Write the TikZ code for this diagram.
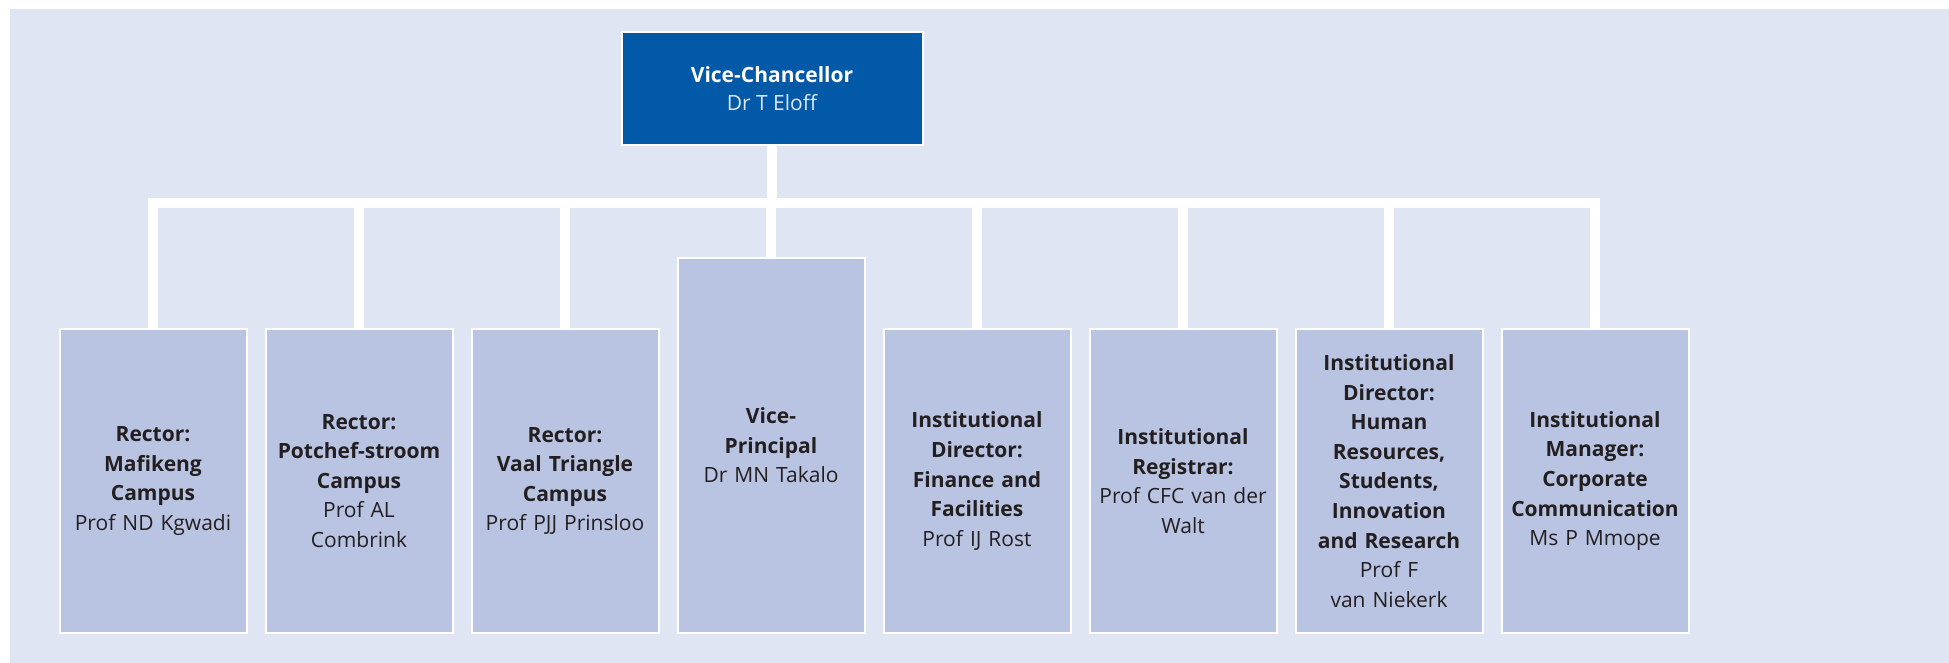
\documentclass[tikz,border=0pt]{standalone}
\usepackage{fontspec}
\setmainfont{Open Sans}
\usepackage{tikz}
\usetikzlibrary{positioning}
\definecolor{panel}{RGB}{223,229,242}
\definecolor{boxfill}{RGB}{185,195,226}
\definecolor{vcblue}{RGB}{1,89,168}
\definecolor{ink}{RGB}{35,31,32}
\definecolor{vcname}{RGB}{222,231,246}
\tikzset{%
  chief/.style = {rectangle,draw=white,line width=2pt,fill=vcblue,text=white,
        minimum width=301pt,minimum height=113pt,align=center,
        font=\fontsize{21}{28}\selectfont},
  office/.style = {rectangle,draw=white,line width=2pt,fill=boxfill,text=ink,
        minimum width=187pt,minimum height=304pt,text width=187pt,
        inner sep=0pt,align=center,font=\fontsize{21}{29.6}\selectfont},
  branch/.style = {draw=white,line width=9.5pt}
}
\begin{document}
\begin{tikzpicture}[x=1pt,y=-1pt,node distance=17pt]
   \useasboundingbox[fill=white] (0,0) rectangle (1949,663);
   \fill[panel] (10,9) rectangle (1949,663);

   \node[chief] (vc) at (772,88.5)
      {\textbf{Vice-Chancellor}\\{\color{vcname}Dr T Eloff}};

   \node[office] (mafikeng) at (153,481)
      {{\bfseries Rector:\\Mafikeng\\Campus}\\Prof ND Kgwadi};
   \node[office] (potch) [right=of mafikeng.south east,anchor=south west]
      {{\bfseries Rector:\\Potchef-stroom\\Campus}\\Prof AL\\Combrink};
   \node[office] (vaal) [right=of potch.south east,anchor=south west]
      {{\bfseries Rector:\\Vaal Triangle\\Campus}\\Prof PJJ Prinsloo};
   \node[office,minimum height=375pt] (vp) [right=of vaal.south east,anchor=south west]
      {{\bfseries Vice-\\Principal}\\Dr MN Takalo};
   \node[office] (finance) [right=of vp.south east,anchor=south west]
      {{\bfseries Institutional\\Director:\\Finance and\\Facilities}\\Prof IJ Rost};
   \node[office] (registrar) [right=of finance.south east,anchor=south west]
      {{\bfseries Institutional\\Registrar:}\\Prof CFC van der\\Walt};
   \node[office] (hr) [right=of registrar.south east,anchor=south west]
      {{\bfseries Institutional\\Director:\\Human\\Resources,\\Students,\\Innovation\\and Research}\\Prof F\\van Niekerk};
   \node[office] (comms) [right=of hr.south east,anchor=south west]
      {{\bfseries Institutional\\Manager:\\Corporate\\Communication}\\Ms P Mmope};

   \draw[branch] (vc.south) -- ++(0,57) coordinate (hub);
   \draw[branch] (hub) -| (mafikeng.north);
   \draw[branch] (hub) -| (potch.north);
   \draw[branch] (hub) -| (vaal.north);
   \draw[branch] (hub) -| (vp.north);
   \draw[branch] (hub) -| (finance.north);
   \draw[branch] (hub) -| (registrar.north);
   \draw[branch] (hub) -| (hr.north);
   \draw[branch] (hub) -| (comms.north);
\end{tikzpicture}
\end{document}
